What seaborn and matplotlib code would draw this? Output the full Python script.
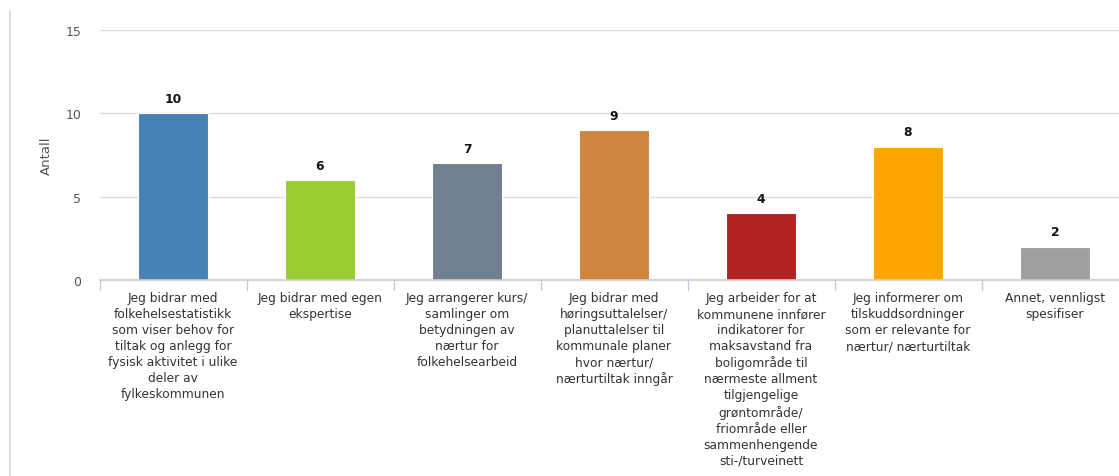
import numpy as np
import matplotlib
matplotlib.use("Agg")
import matplotlib.pyplot as plt
import matplotlib.lines as mlines
import pandas as pd
import seaborn as sns

# Data
categories = [
    "Jeg bidrar med\nfolkehelsestatistikk\nsom viser behov for\ntiltak og anlegg for\nfysisk aktivitet i ulike\ndeler av\nfylkeskommunen",
    "Jeg bidrar med egen\nekspertise",
    "Jeg arrangerer kurs/\nsamlinger om\nbetydningen av\nnærtur for\nfolkehelsearbeid",
    "Jeg bidrar med\nhøringsuttalelser/\nplanuttalelser til\nkommunale planer\nhvor nærtur/\nnærturtiltak inngår",
    "Jeg arbeider for at\nkommunene innfører\nindikatorer for\nmaksavstand fra\nboligområde til\nnærmeste allment\ntilgjengelige\ngrøntområde/\nfriområde eller\nsammenhengende\nsti-/turveinett",
    "Jeg informerer om\ntilskuddsordninger\nsom er relevante for\nnærtur/ nærturtiltak",
    "Annet, vennligst\nspesifiser",
]
counts = [10, 6, 7, 9, 4, 8, 2]
bar_colors = ["#4682b4", "#9acd32", "#708090", "#cd853f", "#b22222", "#ffa500", "#a0a0a0"]

df = pd.DataFrame({"kategori": categories, "antall": counts})

sns.set_style("white")
plt.rcParams["font.family"] = ["DejaVu Sans"]

fig = plt.figure(figsize=(11.19, 4.77), dpi=100)
W, H = 1119, 477
# plot area: x 99.5 -> 1128.5 px, y 31 -> 281 px
ax = fig.add_axes([99.5 / W, (H - 281) / H, (1128.5 - 99.5) / W, 250 / H])

sns.barplot(data=df, x="kategori", y="antall", hue="kategori", palette=bar_colors,
            legend=False, width=0.476, saturation=1, edgecolor="white", linewidth=0.8, ax=ax)

ax.set_ylim(0, 15)
ax.set_xlim(-0.5, len(categories) - 0.5)
ax.set_yticks([0, 5, 10, 15])
ax.yaxis.grid(True, color="#dedede", linewidth=1)
ax.set_axisbelow(True)
for s in ["top", "right", "left"]:
    ax.spines[s].set_visible(False)
ax.spines["bottom"].set_color("#cccccc")
ax.spines["bottom"].set_linewidth(1.2)

ax.tick_params(axis="y", length=0, pad=13, labelsize=9, labelcolor="#555555")
ax.set_xticks(range(len(categories)))
ax.set_xticklabels(categories, fontsize=8.8, color="#333333", linespacing=1.3, va="top")
ax.tick_params(axis="x", length=0, pad=8)
ax.set_xlabel("")
ax.set_ylabel("Antall", fontsize=9.5, color="#555555", labelpad=9)

# category boundary ticks
for b in np.arange(-0.5, len(categories), 1.0):
    ax.plot([b, b], [0, -0.6], color="#c0d0e0", linewidth=1, clip_on=False)

# value labels
for i, v in enumerate(counts):
    ax.annotate(str(v), (i, v), xytext=(0, 6), textcoords="offset points",
                ha="center", va="bottom", fontsize=8.8, fontweight="bold", color="#111111")

# page border on the left
fig.add_artist(mlines.Line2D([10 / W, 10 / W], [(H - 12) / H, 0],
                             color="#d5d5d5", linewidth=1.2))

fig.savefig("out.png", dpi=100)
